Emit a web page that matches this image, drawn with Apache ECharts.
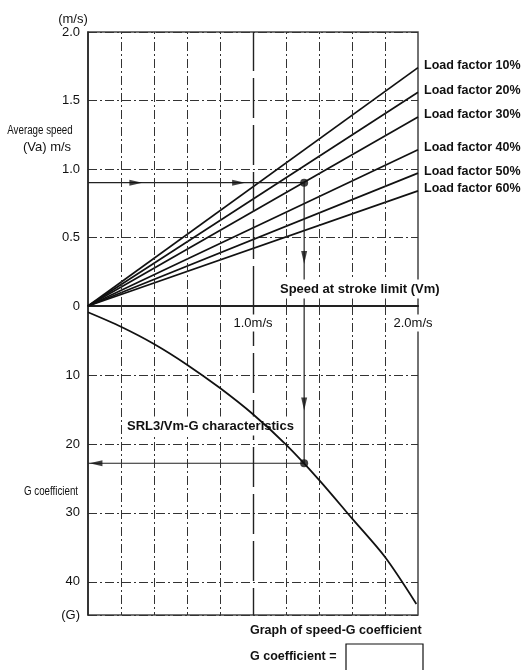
<!DOCTYPE html>
<html>
<head>
<meta charset="utf-8">
<script src="https://cdn.jsdelivr.net/npm/echarts@6/dist/echarts.min.js"></script>
<style>html,body{margin:0;padding:0;background:#fff;}#c{width:526px;height:670px;}</style>
</head>
<body>
<div id="c"></div>
<script>
// ---- data ----
const loadFactorNames = ['Load factor 10%', 'Load factor 20%', 'Load factor 30%', 'Load factor 40%', 'Load factor 50%', 'Load factor 60%'];
const speedAtMax = [1.74, 1.56, 1.38, 1.14, 0.97, 0.84];   // Va at Vm = 2.0 m/s
const vmMax = 2.0;
const gCurveVm = [0, 0.2, 0.4, 0.6, 0.8, 1.0, 1.2, 1.4, 1.6, 1.8, 1.99];
const gCurveG  = [0.9, 3.0, 5.5, 8.5, 11.9, 15.7, 20.1, 25.2, 30.8, 36.4, 43.2];
const readVa = 0.9;     // example average speed
const readVm = 1.31;    // resulting speed at stroke limit
const readG = 22.8;     // resulting G coefficient
const topTickLabels = { 0: '0', 0.5: '0.5', 1: '1.0', 1.5: '1.5', 2: '2.0' };
const bottomTickLabels = { 10: '10', 20: '20', 30: '30', 40: '40' };
const gAxisMax = 44.8;
const gridXs = [0.2, 0.4, 0.6, 0.8, 1.2, 1.4, 1.6, 1.8];
const refX = 1.0;
const arrowsTop = [[0.29, readVa, -90], [0.913, readVa, -90], [readVm, 0.354, 180]];
const arrowsBottom = [[readVm, 14.2, 180], [0.048, readG, 90]];

const INK = '#111';
const GRIDC = '#333';
const vMarks = {
  silent: true, symbol: 'none', label: { show: false }, z: 5,
  lineStyle: { color: GRIDC, width: 1, type: [9, 3, 2, 3] },
  emphasis: { disabled: true },
  data: gridXs.map(v => ({ xAxis: v })).concat([{ xAxis: refX, lineStyle: { color: '#222', width: 1.4, type: [40, 7] } }])
};
const dashDot = { show: true, lineStyle: { color: GRIDC, width: 1, type: [9, 3, 2, 3] } };

const series = [];
loadFactorNames.forEach((n, i) => {
  series.push({
    name: n, type: 'line', xAxisIndex: 0, yAxisIndex: 0,
    data: [[0, 0], [vmMax, speedAtMax[i]]],
    symbol: 'none', lineStyle: { color: INK, width: 1.7 },
    endLabel: { show: true, formatter: n, color: INK, fontWeight: 'bold', fontSize: 12.5, fontFamily: 'Liberation Sans, Arial, sans-serif', distance: 6, offset: [0, -2] },
    silent: true, z: 3
  });
});
series.push({
  type: 'line', xAxisIndex: 0, yAxisIndex: 0,
  data: [[0, readVa], [readVm, readVa], [readVm, 0]],
  symbol: 'none', lineStyle: { color: '#222', width: 1.2 }, silent: true, z: 3,
  markLine: vMarks
});
series.push({
  type: 'line', xAxisIndex: 1, yAxisIndex: 1,
  data: [[readVm, 0], [readVm, readG], [0, readG]],
  symbol: 'none', lineStyle: { color: '#222', width: 1.2 }, silent: true, z: 3
});
series.push({
  type: 'line', xAxisIndex: 1, yAxisIndex: 1,
  data: gCurveVm.map((v, i) => [v, gCurveG[i]]),
  smooth: 0.3, symbol: 'none', lineStyle: { color: INK, width: 1.8 }, silent: true, z: 10,
  markLine: vMarks
});
series.push({
  type: 'scatter', xAxisIndex: 0, yAxisIndex: 0, silent: true, z: 10,
  symbol: 'triangle', symbolSize: [6, 13], itemStyle: { color: INK },
  data: arrowsTop.map(a => ({ value: [a[0], a[1]], symbolRotate: a[2] }))
});
series.push({
  type: 'scatter', xAxisIndex: 1, yAxisIndex: 1, silent: true, z: 10,
  symbol: 'triangle', symbolSize: [6, 13], itemStyle: { color: INK },
  data: arrowsBottom.map(a => ({ value: [a[0], a[1]], symbolRotate: a[2] }))
});
series.push({
  type: 'scatter', xAxisIndex: 0, yAxisIndex: 0, silent: true, z: 10,
  symbol: 'circle', symbolSize: 8, itemStyle: { color: INK },
  data: [[readVm, readVa]]
});
series.push({
  type: 'scatter', xAxisIndex: 1, yAxisIndex: 1, silent: true, z: 10,
  symbol: 'circle', symbolSize: 8, itemStyle: { color: INK },
  data: [[readVm, readG]]
});

const FF = 'Liberation Sans, Arial, sans-serif';
function txt(text, x, y, opts, extra) {
  return Object.assign({
    type: 'text', z: 6, silent: true, x: x, y: y,
    style: Object.assign({ text: text, x: 0, y: 0, fill: INK, font: '13px ' + FF, align: 'center', verticalAlign: 'middle' }, opts || {})
  }, extra || {});
}

const option = {
  animation: false,
  backgroundColor: '#fff',
  grid: [
    { left: 88, top: 32, width: 330, height: 274, show: true, borderColor: '#444', borderWidth: 1.5, backgroundColor: 'transparent' },
    { left: 88, top: 306, width: 330, height: 309, show: true, borderColor: '#444', borderWidth: 1.5, backgroundColor: 'transparent' }
  ],
  xAxis: [
    { type: 'value', gridIndex: 0, min: 0, max: vmMax, interval: 0.2,
      axisLine: { show: true, onZero: false, lineStyle: { color: '#222', width: 2 } },
      axisTick: { show: false }, axisLabel: { show: false }, splitLine: { show: false } },
    { type: 'value', gridIndex: 1, min: 0, max: vmMax, interval: 0.2, position: 'top',
      axisLine: { show: false }, axisTick: { show: false }, axisLabel: { show: false }, splitLine: { show: false } }
  ],
  yAxis: [
    { type: 'value', gridIndex: 0, min: 0, max: 2, interval: 0.5,
      axisLine: { show: true, lineStyle: { color: '#222', width: 1.5 } }, axisTick: { show: false },
      axisLabel: { show: true, margin: 8, color: INK, fontSize: 13, fontFamily: FF,
        formatter: v => (topTickLabels[v] !== undefined ? topTickLabels[v] : '') },
      splitLine: dashDot },
    { type: 'value', gridIndex: 1, min: 0, max: gAxisMax, interval: 10, inverse: true,
      axisLine: { show: true, lineStyle: { color: '#222', width: 1.5 } }, axisTick: { show: false },
      axisLabel: { show: true, margin: 8, color: INK, fontSize: 13, fontFamily: FF, showMinLabel: false,
        formatter: v => (bottomTickLabels[v] !== undefined ? bottomTickLabels[v] : (v >= gAxisMax - 0.01 ? '(G)' : '')) },
      splitLine: dashDot }
  ],
  series: series,
  graphic: [
    txt('(m/s)', 73, 19),
    txt('Average speed', 40, 131, { font: '12.5px ' + FF }, { scaleX: 0.78 }),
    txt('(Va) m/s', 47, 147),
    txt('G coefficient', 51, 492, { font: '12.5px ' + FF }, { scaleX: 0.78 }),
    txt('1.0m/s', 253, 323, { backgroundColor: '#fff', padding: [2, 1] }),
    txt('2.0m/s', 413, 323, { backgroundColor: '#fff', padding: [2, 1] }),
    txt('Speed at stroke limit (Vm)', 280, 289, { align: 'left', font: 'bold 13px ' + FF, backgroundColor: '#fff', padding: [3, 0] }),
    txt('SRL3/Vm-G characteristics', 127, 426, { align: 'left', font: 'bold 13px ' + FF, backgroundColor: '#fff', padding: [3, 0] }),
    txt('Graph of speed-G coefficient', 250, 631, { align: 'left', font: 'bold 12.5px ' + FF }),
    txt('G coefficient =', 250, 657, { align: 'left', font: 'bold 12.5px ' + FF }),
    { type: 'rect', z: 100, silent: true, shape: { x: 346, y: 644, width: 77, height: 30 }, style: { fill: 'none', stroke: INK, lineWidth: 1.2 } }
  ]
};
const chart = echarts.init(document.getElementById('c'), null, { renderer: 'canvas' });
chart.setOption(option);
</script>
</body>
</html>
